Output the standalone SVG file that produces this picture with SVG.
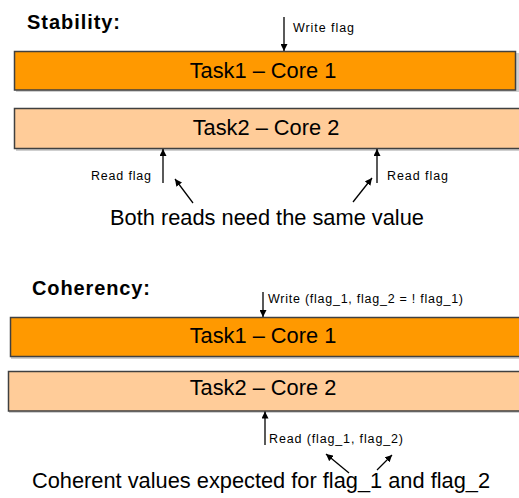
<svg xmlns="http://www.w3.org/2000/svg" width="519" height="498" viewBox="0 0 519 498">
<defs>
<marker id="ah" viewBox="0 0 10 10" refX="10" refY="5" markerWidth="7" markerHeight="7" markerUnits="userSpaceOnUse" orient="auto"><path d="M0,0 L10,5 L0,10 Z" fill="#000"/></marker>
</defs>
<style>
.t1{fill:#FF9900;stroke:#404040;stroke-width:1.5}
.t2{fill:#FFCC99;stroke:#404040;stroke-width:1.5}
.sh{fill:#cfcfcf}
.big{font-family:"Liberation Sans",Arial,sans-serif;font-size:21.8px;fill:#000}
.head{font-family:"Liberation Sans",Arial,sans-serif;font-size:20px;font-weight:bold;fill:#000}
.sm{font-family:"Liberation Sans",Arial,sans-serif;font-size:12.5px;fill:#000}
.c line{stroke:#000;stroke-width:1.3;marker-end:url(#ah)}
</style>
<rect width="519" height="498" fill="#fff"/>
<text class="head" x="27" y="29" textLength="93">Stability:</text>
<g id="s-task1">
<rect class="sh" x="16" y="53" width="503" height="39"/>
<rect class="t1" x="14.5" y="51.5" width="501" height="38.5"/>
<text class="big" x="263" y="78" text-anchor="middle">Task1 – Core 1</text>
</g>
<g id="s-task2">
<rect class="sh" x="16" y="110" width="505" height="41"/>
<rect class="t2" x="14.5" y="108.5" width="510" height="40"/>
<text class="big" x="266" y="135" text-anchor="middle">Task2 – Core 2</text>
</g>
<text class="head" x="32" y="295" textLength="118">Coherency:</text>
<g id="c-task1">
<rect class="sh" x="11" y="319" width="510" height="40"/>
<rect class="t1" x="10.5" y="317.5" width="515" height="39"/>
<text class="big" x="263" y="343" text-anchor="middle">Task1 – Core 1</text>
</g>
<g id="c-task2">
<rect class="sh" x="9" y="373" width="512" height="40"/>
<rect class="t2" x="8.5" y="371.5" width="515" height="39.5"/>
<text class="big" x="263" y="395" text-anchor="middle">Task2 – Core 2</text>
</g>
<g id="connectors" class="c">
<line x1="284" y1="17" x2="284" y2="51"/>
<line x1="163" y1="183" x2="163" y2="149"/>
<line x1="377" y1="183" x2="377" y2="149"/>
<line x1="193" y1="203" x2="175" y2="179"/>
<line x1="353" y1="202" x2="372" y2="178"/>
<line x1="263" y1="292" x2="263" y2="317"/>
<line x1="265" y1="445" x2="265" y2="411.5"/>
<line x1="349" y1="473" x2="326" y2="454"/>
<line x1="377" y1="470" x2="392" y2="455"/>
</g>
<g id="labels">
<text class="sm" x="293" y="32" textLength="61">Write flag</text>
<text class="sm" x="91" y="180" textLength="60">Read flag</text>
<text class="sm" x="387" y="180" textLength="61">Read flag</text>
<text class="big" x="267" y="225" text-anchor="middle">Both reads need the same value</text>
<text class="sm" x="268" y="303" textLength="195">Write (flag_1, flag_2 = ! flag_1)</text>
<text class="sm" x="269" y="443" textLength="134">Read (flag_1, flag_2)</text>
<text class="big" x="261" y="488" text-anchor="middle">Coherent values expected for flag_1 and flag_2</text>
</g>
</svg>
